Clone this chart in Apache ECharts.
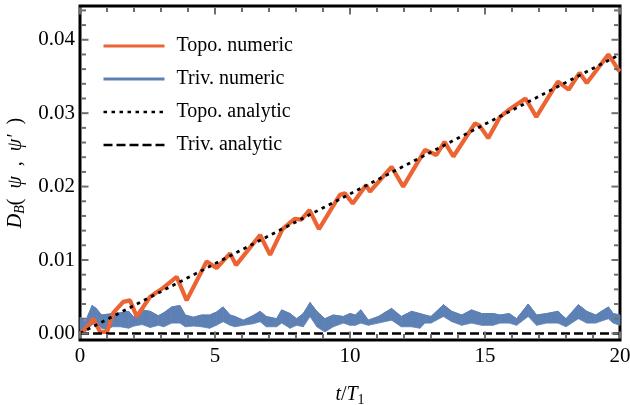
<!DOCTYPE html>
<html><head><meta charset="utf-8">
<script src="https://cdn.jsdelivr.net/npm/echarts@6/dist/echarts.min.js"></script>
<style>html,body{margin:0;padding:0;background:#fff}#c{width:630px;height:405px}</style>
</head><body><div id="c"></div>
<script>
// ---- data ----
const topoNumT = [0,0.25,0.49,0.6,0.75,1.0,1.23,1.6,1.85,2.1,2.6,3.08,3.58,3.95,4.69,5.06,5.56,5.78,6.67,7.04,7.5,7.95,8.2,8.5,8.85,9.63,9.81,10.1,10.6,10.74,11.54,11.97,12.78,13.2,13.5,13.83,14.63,14.8,15.12,15.56,15.9,16.5,16.9,17.7,18.1,18.5,18.77,19.57,19.94,20];
const topoNumV = [0,0.0008,0.0020,0.0012,0.0002,0.0002,0.0028,0.0043,0.0045,0.0023,0.0050,0.0062,0.0077,0.0045,0.0098,0.0089,0.0109,0.0093,0.0134,0.0107,0.0142,0.0156,0.0155,0.0168,0.0142,0.0189,0.0191,0.0177,0.0202,0.0193,0.0227,0.0200,0.0250,0.0243,0.0261,0.0241,0.0286,0.0283,0.0266,0.0295,0.0305,0.0320,0.0295,0.0343,0.0332,0.0355,0.0341,0.0380,0.0359,0.0357];
const trivNumT = [0,0.2,0.45,0.6,0.8,1.0,1.2,1.5,1.8,2.0,2.3,2.6,2.9,3.1,3.4,3.7,3.9,4.2,4.5,4.8,5.05,5.3,5.56,5.74,6.05,6.4,6.67,6.9,7.28,7.47,7.78,8.02,8.27,8.52,8.77,9.07,9.38,9.75,10.0,10.2,10.4,10.68,11.05,11.54,11.9,12.28,12.59,12.78,13.0,13.46,13.77,14.14,14.5,14.88,15.3,15.56,15.9,16.17,16.6,16.91,17.28,17.7,18.0,18.46,18.77,19.1,19.57,19.75,20];
const trivNumLow = [0.0005,0.0002,0.0012,0.0014,0.0007,0.0005,0.0009,0.0009,0.0007,0.0010,0.0012,0.0008,0.0011,0.0009,0.0014,0.0014,0.0009,0.0010,0.0009,0.0007,0.0011,0.0016,0.0011,0.0009,0.0011,0.0013,0.0016,0.0009,0.0009,0.0014,0.0007,0.0011,0.0009,0.0023,0.0009,0.0002,0.0009,0.0014,0.0011,0.0011,0.0014,0.0011,0.0014,0.0018,0.0009,0.0009,0.0007,0.0014,0.0014,0.0023,0.0016,0.0011,0.0014,0.0011,0.0011,0.0014,0.0014,0.0011,0.0023,0.0011,0.0014,0.0014,0.0009,0.0020,0.0014,0.0014,0.0020,0.0014,0.0011];
const trivNumHigh = [0.0022,0.0016,0.0038,0.0034,0.0025,0.0026,0.0027,0.0028,0.0030,0.0022,0.0032,0.0030,0.0024,0.0028,0.0036,0.0038,0.0025,0.0022,0.0025,0.0025,0.0029,0.0036,0.0025,0.0023,0.0018,0.0024,0.0030,0.0023,0.0020,0.0032,0.0027,0.0020,0.0027,0.0042,0.0030,0.0020,0.0025,0.0023,0.0027,0.0025,0.0032,0.0018,0.0023,0.0034,0.0023,0.0030,0.0027,0.0025,0.0023,0.0039,0.0030,0.0025,0.0032,0.0027,0.0027,0.0025,0.0027,0.0020,0.0040,0.0025,0.0027,0.0030,0.0020,0.0039,0.0030,0.0025,0.0036,0.0027,0.0025];
const topoAnaT = [0, 20];
const topoAnaV = [0, 0.038];
const trivAnaT = [0, 20];
const trivAnaV = [0, 0];
const xMajorTicks = [0, 5, 10, 15, 20];
const xMinorTicks = [1,2,3,4,6,7,8,9,11,12,13,14,16,17,18,19];
const yMajorTicks = [0, 0.01, 0.02, 0.03, 0.04];
const yMinorTicks = [0.002,0.004,0.006,0.008,0.012,0.014,0.016,0.018,0.022,0.024,0.026,0.028,0.032,0.034,0.036,0.038,0.042,0.044];
const seriesNames = ['Topo. numeric', 'Triv. numeric', 'Topo. analytic', 'Triv. analytic'];

// ---- chart ----
const FONT = 'Liberation Serif';
const ORANGE = '#ec6434';
const BLUE = '#5e81b5';
const TICK = '#6e6e6e';
const XMIN = 0, XMAX = 20;
const YMIN = -0.0009, YMAX = 0.0446;
const MAJOR_LEN = 7, MINOR_LEN = 4.5;
const zip = (a, b) => a.map((v, i) => [v, b[i]]);
const chart = echarts.init(document.getElementById('c'), null, {renderer: 'canvas'});

// frame ticks (drawn on all four sides through the axis scales)
const tickItems = []
  .concat(xMajorTicks.map(v => [v, YMIN, 0, MAJOR_LEN]))
  .concat(xMinorTicks.map(v => [v, YMIN, 0, MINOR_LEN]))
  .concat(yMajorTicks.map(v => [XMIN, v, 1, MAJOR_LEN]))
  .concat(yMinorTicks.map(v => [XMIN, v, 1, MINOR_LEN]));

const option = {
  animation: false,
  backgroundColor: '#fff',
  grid: {left: 80, right: 10, top: 6, bottom: 65, show: true, borderColor: '#000', borderWidth: 3,
         backgroundColor: 'transparent', containLabel: false, outerBoundsMode: 'none'},
  xAxis: {
    type: 'value', min: XMIN, max: XMAX, interval: 5,
    axisLine: {show: false, onZero: false}, splitLine: {show: false}, axisTick: {show: false},
    axisLabel: {fontFamily: FONT, fontSize: 21, color: '#000', margin: 6},
    name: '{i|t}/{i|T}{s|1}', nameLocation: 'middle', nameGap: 43,
    nameTextStyle: {fontFamily: FONT, fontSize: 20, color: '#000', rich: {
      i: {fontFamily: FONT, fontSize: 20, fontStyle: 'italic', color: '#000'},
      s: {fontFamily: FONT, fontSize: 14, color: '#000', padding: [10, 0, 0, 0]}
    }}
  },
  yAxis: {
    type: 'value', min: YMIN, max: YMAX,
    axisLine: {show: false, onZero: false}, splitLine: {show: false}, axisTick: {show: false},
    axisLabel: {customValues: yMajorTicks, formatter: v => v.toFixed(2), fontFamily: FONT, fontSize: 21, color: '#000', margin: 5},
    name: '{i|D}{s|B}(  {i|ψ}  ,  {i|ψ′}  )', nameLocation: 'middle', nameGap: 47, nameRotate: 90,
    nameTextStyle: {fontFamily: FONT, fontSize: 20, color: '#000', rich: {
      i: {fontFamily: FONT, fontSize: 20, fontStyle: 'italic', color: '#000'},
      s: {fontFamily: FONT, fontSize: 14, fontStyle: 'italic', color: '#000', padding: [10, 0, 0, 0]}
    }}
  },
  legend: {
    orient: 'vertical', left: 102, top: 36, padding: 0, itemWidth: 61, itemHeight: 14, itemGap: 13,
    itemStyle: {opacity: 0},
    data: [
      {name: seriesNames[0], lineStyle: {width: 3}},
      {name: seriesNames[1], lineStyle: {width: 3}},
      {name: seriesNames[2], lineStyle: {width: 2.5}},
      {name: seriesNames[3], lineStyle: {width: 2.5}}
    ],
    textStyle: {fontFamily: FONT, fontSize: 20, color: '#000', padding: [0, 0, 0, 7]}
  },
  series: [
    {name: 'trivBand', type: 'custom', z: 2,
     data: trivNumT.slice(0, -1).map((t, i) => [t, trivNumLow[i], trivNumHigh[i], trivNumT[i + 1], trivNumLow[i + 1], trivNumHigh[i + 1]]),
     encode: {x: [0, 3], y: [1, 2, 4, 5]},
     renderItem: function (params, api) {
       const a = api.coord([api.value(0), api.value(1)]);
       const b = api.coord([api.value(0), api.value(2)]);
       const c = api.coord([api.value(3), api.value(5)]);
       const d = api.coord([api.value(3), api.value(4)]);
       return {type: 'polygon', shape: {points: [a, b, c, d]},
               style: {fill: BLUE, stroke: BLUE, lineWidth: 0.8}};
     }},
    {name: seriesNames[1], type: 'line', symbol: 'none', data: zip(trivNumT, trivNumHigh),
     lineStyle: {color: BLUE, width: 1}, itemStyle: {color: BLUE}, z: 2},
    {name: seriesNames[0], type: 'line', symbol: 'none', data: zip(topoNumT, topoNumV),
     lineStyle: {color: ORANGE, width: 4.2}, itemStyle: {color: ORANGE}, z: 3},
    {name: seriesNames[2], type: 'line', symbol: 'none', data: zip(topoAnaT, topoAnaV),
     lineStyle: {color: '#000', width: 2.8, type: [3.5, 4.5]}, itemStyle: {color: '#000'}, z: 4},
    {name: seriesNames[3], type: 'line', symbol: 'none', data: zip(trivAnaT, trivAnaV),
     lineStyle: {color: '#000', width: 2.5, type: [9, 4]}, itemStyle: {color: '#000'}, z: 4},
    {name: 'frameTicks', type: 'custom', z: 6, clip: false, silent: true,
     data: tickItems, encode: {x: 0, y: 1},
     renderItem: function (params, api) {
       const isY = api.value(2) === 1, len = api.value(3);
       const style = {stroke: TICK, lineWidth: 2, fill: null};
       if (!isY) {
         const v = api.value(0);
         const p0 = api.coord([v, YMIN]), p1 = api.coord([v, YMAX]);
         return {type: 'group', children: [
           {type: 'line', shape: {x1: p0[0], y1: p0[1] - 1.5, x2: p0[0], y2: p0[1] - 1.5 - len}, style: style},
           {type: 'line', shape: {x1: p1[0], y1: p1[1] + 1.5, x2: p1[0], y2: p1[1] + 1.5 + len}, style: style}
         ]};
       }
       const v = api.value(1);
       const q0 = api.coord([XMIN, v]), q1 = api.coord([XMAX, v]);
       return {type: 'group', children: [
         {type: 'line', shape: {x1: q0[0] + 1.5, y1: q0[1], x2: q0[0] + 1.5 + len, y2: q0[1]}, style: style},
         {type: 'line', shape: {x1: q1[0] - 1.5, y1: q1[1], x2: q1[0] - 1.5 - len, y2: q1[1]}, style: style}
       ]};
     }}
  ]
};
chart.setOption(option);
</script></body></html>
